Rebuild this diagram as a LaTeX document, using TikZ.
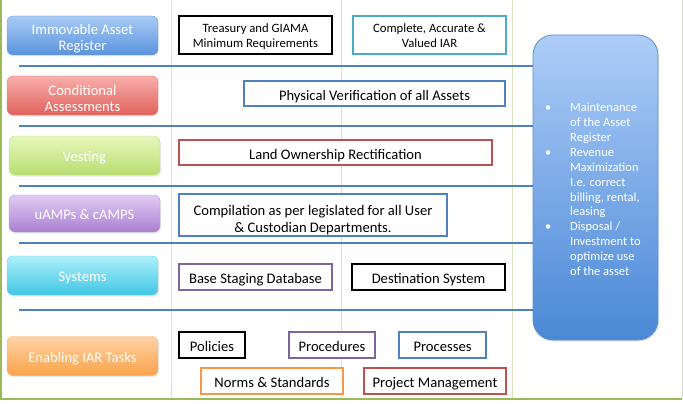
\documentclass[tikz,border=0pt]{standalone}
\usepackage{fontspec}
\setmainfont{Carlito}
\usetikzlibrary{shadows}
\definecolor{bandblue}{HTML}{4F81BD}
\definecolor{gridgreen}{HTML}{D7E4BD}
\definecolor{framegreen}{HTML}{9BBB59}
\definecolor{framegray}{HTML}{D9DED0}
\definecolor{goaltop}{HTML}{ADCDF8}
\definecolor{goalbot}{HTML}{4A88D6}
\definecolor{goalline}{HTML}{5B8FCF}
\definecolor{boxcyan}{HTML}{4BACC6}
\definecolor{boxred}{HTML}{C0504D}
\definecolor{boxpurple}{HTML}{8064A2}
\definecolor{boxorange}{HTML}{F79646}
\definecolor{bluetop}{HTML}{A9CBF6}\definecolor{bluebot}{HTML}{5A93DC}\definecolor{blueline}{HTML}{6C9DDC}
\definecolor{redtop}{HTML}{F8AEAB}\definecolor{redbot}{HTML}{E0625C}\definecolor{redline}{HTML}{E0807B}
\definecolor{greentop}{HTML}{E6F7BC}\definecolor{greenbot}{HTML}{B9DE70}\definecolor{greenline}{HTML}{C2DE8C}
\definecolor{purpletop}{HTML}{E3CCF5}\definecolor{purplebot}{HTML}{A880D0}\definecolor{purpleline}{HTML}{B597D6}
\definecolor{cyantop}{HTML}{ADF0FB}\definecolor{cyanbot}{HTML}{40C7E4}\definecolor{cyanline}{HTML}{6BD2E8}
\definecolor{orangetop}{HTML}{FFD3A6}\definecolor{orangebot}{HTML}{F9A24A}\definecolor{orangeline}{HTML}{F6B06A}
\newcommand\liftline[1]{\rule{0pt}{#1}}
\tikzset{
  taskbox/.style={rounded corners=6pt, minimum width=151pt, minimum height=39pt, text=white, align=center, inner xsep=2pt, inner ysep=0pt, font=\fontsize{14.6}{16}\selectfont, execute at begin node={\rule[-4pt]{0pt}{20.8pt}}, top color=#1top, bottom color=#1bot, draw=#1line, drop shadow={opacity=0.18, shadow xshift=1pt, shadow yshift=-1.5pt}},
  itembox/.style={draw, fill=white, align=center, inner xsep=2pt, inner ysep=1pt, line width=1.3pt, font=\fontsize{14.6}{17}\selectfont, execute at begin node={\rule[-4pt]{0pt}{21pt}}},
  boldbox/.style={itembox, draw=black, line width=2.2pt},
  smallbox/.style={font=\fontsize{12.7}{14.5}\selectfont, execute at begin node={\rule[-3pt]{0pt}{16pt}}},
  bandline/.style={draw=bandblue, line width=1.8pt},
  gridline/.style={draw=gridgreen, line width=0.7pt},
  goalbox/.style={rounded corners=20pt, minimum width=125pt, minimum height=305pt, top color=goaltop, bottom color=goalbot, draw=goalline, line width=0.8pt, drop shadow={opacity=0.18, shadow xshift=1pt, shadow yshift=-1.5pt}}
}
\begin{document}
\begin{tikzpicture}[x=1pt, y=-1pt]
\useasboundingbox (0,0) rectangle (683,404);
\foreach \gx in {171,341,512} \draw[gridline] (\gx,0) -- (\gx,399);
\draw[framegray, line width=0.8pt] (682,0) -- (682,399);
\draw[framegreen, line width=1.2pt] (1,0) -- (1,399) -- (682,399);
\node[goalbox] (goals) at (595.5,187.5) {};
\node[text=white, anchor=north west, inner sep=0pt, font=\fontsize{12.5}{14.9}\selectfont] (goalitems) at (545,101) {%
\begin{tabular}{@{}p{25pt}@{}l@{}}
\textbullet & Maintenance\\
 & of the Asset\\
 & Register\\
\textbullet & Revenue\\
 & Maximization\\
 & I.e. correct\\
 & billing, rental,\\
 & leasing\\
\textbullet & Disposal /\\
 & Investment to\\
 & optimize use\\
 & of the asset
\end{tabular}};
\foreach \ly [count=\i] in {66,126,186,243,310} {
  \coordinate (band\i) at (19,\ly);
  \draw[bandline] (band\i) -- (band\i -| goals.west);
}
\node[taskbox=blue] (register) at (82.5,35.5) {\liftline{19pt}Immovable Asset\\Register};
\node[taskbox=red] (assess) at (82.5,95.5) {\liftline{19pt}Conditional\\Assessments};
\node[taskbox=green] (vesting) at (84.5,155.5) {Vesting};
\node[taskbox=purple, minimum height=37pt] (amps) at (84.5,213.5) {uAMPs \& cAMPS};
\node[taskbox=cyan] (systems) at (82.5,275.5) {Systems};
\node[taskbox=orange] (enabling) at (82.5,356) {Enabling IAR Tasks};
\node[boldbox, smallbox, minimum width=153pt, minimum height=38pt] (treasury) at (255.5,35) {\liftline{14.5pt}Treasury and GIAMA\\Minimum Requirements};
\node[itembox, smallbox, draw=boxcyan, minimum width=153pt, minimum height=38pt] (complete) at (429.5,35) {\liftline{14.5pt}Complete, Accurate \&\\Valued IAR};
\node[itembox, draw=bandblue, minimum width=261pt, minimum height=25pt] (verify) at (374.5,93.5) {Physical Verification of all Assets};
\node[itembox, draw=boxred, minimum width=313pt, minimum height=25pt] (land) at (335.5,152.5) {Land Ownership Rectification};
\node[itembox, draw=bandblue, inner ysep=0pt, minimum width=268pt, minimum height=42pt] (compile) at (313,215) {\liftline{21pt}Compilation as per legislated for all User\\\& Custodian Departments.};
\node[itembox, draw=boxpurple, minimum width=153pt, minimum height=26pt] (staging) at (255.5,277) {Base Staging Database};
\node[boldbox, minimum width=153pt, minimum height=26pt] (destination) at (428.5,277) {Destination System};
\node[boldbox, minimum width=66pt, minimum height=26pt] (policies) at (212,345) {Policies};
\node[itembox, draw=boxpurple, minimum width=86pt, minimum height=26pt] (procedures) at (332,345) {Procedures};
\node[itembox, draw=bandblue, minimum width=87pt, minimum height=26pt] (processes) at (442.5,345) {Processes};
\node[itembox, draw=boxorange, minimum width=142pt, minimum height=26pt] (norms) at (272,381) {Norms \& Standards};
\node[itembox, draw=boxred, minimum width=142pt, minimum height=26pt] (project) at (435,381) {Project Management};
\end{tikzpicture}
\end{document}
